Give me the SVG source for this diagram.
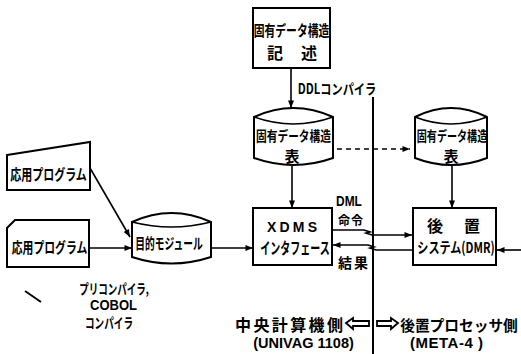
<svg xmlns="http://www.w3.org/2000/svg" width="521" height="354" viewBox="0 0 521 354">
<defs>
<style>
.jp{font-family:"Noto Sans CJK JP","Liberation Sans",sans-serif;font-weight:bold;fill:#000;dominant-baseline:central;text-anchor:middle}
.la{font-family:"Liberation Sans","Noto Sans CJK JP",sans-serif;font-weight:bold;fill:#000;dominant-baseline:central;text-anchor:middle}
.box{fill:#fff;stroke:#000;stroke-width:2}
.ln{fill:none;stroke:#000;stroke-width:1.6}
.dash{fill:none;stroke:#000;stroke-width:1.6;stroke-dasharray:5 4}
.harrow{fill:none;stroke:#000;stroke-width:1.8}
</style>
<marker id="ah" viewBox="0 0 10 8" refX="10" refY="4" markerWidth="8" markerHeight="6" markerUnits="userSpaceOnUse" orient="auto">
<path d="M0,0 L10,4 L0,8 Z" fill="#000"/>
</marker>
</defs>
<rect width="521" height="354" fill="#fff"/>

<g id="divider">
<line x1="373" y1="97" x2="373" y2="354" stroke="#000" stroke-width="2"/>
</g>

<g id="connectors">
<line class="ln" x1="291" y1="68" x2="291" y2="108" marker-end="url(#ah)"/>
<line class="ln" x1="292" y1="166" x2="292" y2="208" marker-end="url(#ah)"/>
<line class="ln" x1="452" y1="166" x2="452" y2="208" marker-end="url(#ah)"/>
<line class="dash" x1="337" y1="149" x2="410" y2="149" marker-end="url(#ah)"/>
<line class="ln" x1="90" y1="168" x2="130" y2="237" marker-end="url(#ah)"/>
<line class="ln" x1="89" y1="248" x2="132" y2="248" marker-end="url(#ah)"/>
<line class="ln" x1="211" y1="248" x2="253" y2="248" marker-end="url(#ah)"/>
<line class="ln" x1="521" y1="250" x2="497" y2="250" marker-end="url(#ah)"/>
<polyline class="ln" points="333,230 364,230 370,232 366,233 372,235 412,235" marker-end="url(#ah)"/>
<polyline class="ln" points="412,250 376,250 370,248 374,247 368,245 333,245" marker-end="url(#ah)"/>
<line x1="25" y1="291" x2="41" y2="302" stroke="#000" stroke-width="2"/>
</g>

<g id="ddl-source">
<rect class="box" x="253" y="8" width="77" height="60"/>
<text class="jp" transform="translate(291.5,30) scale(0.72,1)" font-size="15">固有データ構造</text>
<text class="jp" x="292" y="52" font-size="16" textLength="50" lengthAdjust="spacing">記　述</text>
</g>
<text class="jp" transform="translate(337,88) scale(0.8,1)" font-size="14">DDLコンパイラ</text>

<g id="table-left">
<path class="box" d="M254,117 Q293.5,99 333,117 L333,158 Q293.5,172 254,158 Z"/>
<path class="ln" d="M254,117 Q293.5,131 333,117"/>
<text class="jp" transform="translate(293.5,135) scale(0.765,1)" font-size="14">固有データ構造</text>
<text class="jp" x="292" y="155" font-size="15">表</text>
</g>

<g id="table-right">
<path class="box" d="M415,117 Q451,99 487,117 L487,158 Q451,172 415,158 Z"/>
<path class="ln" d="M415,117 Q451,131 487,117"/>
<text class="jp" transform="translate(452,135) scale(0.72,1)" font-size="14">固有データ構造</text>
<text class="jp" x="451" y="155" font-size="15">表</text>
</g>

<g id="app1">
<path class="box" d="M7,155 L90,142 L90,190 L7,190 Z"/>
<text class="jp" transform="translate(48.5,174) scale(0.733,1)" font-size="15">応用プログラム</text>
</g>

<g id="app2">
<path class="box" d="M15,220 L89,220 L89,267 L7,267 L7,228 Z"/>
<text class="jp" transform="translate(49.5,247) scale(0.723,1)" font-size="15">応用プログラム</text>
</g>

<g id="object-module">
<path class="box" d="M132,222 Q171.5,204 211,222 L211,257 Q171.5,270 132,257 Z"/>
<path class="ln" d="M132,222 Q171.5,232 211,222"/>
<text class="jp" transform="translate(169,242) scale(0.65,1)" font-size="15">目的モジュール</text>
</g>

<g id="xdms">
<rect class="box" x="253" y="208" width="79" height="57"/>
<text class="la" x="292" y="227" font-size="14" textLength="50" lengthAdjust="spacing">XDMS</text>
<text class="jp" transform="translate(295,247) scale(0.625,1)" font-size="16">インタフェース</text>
</g>

<g id="dmr">
<rect class="box" x="413" y="208" width="83" height="57"/>
<text class="jp" x="453.5" y="225" font-size="16" textLength="53" lengthAdjust="spacing">後　置</text>
<text class="jp" transform="translate(456,247) scale(0.74,1)" font-size="15">システム(DMR)</text>
</g>

<g id="labels">
<text class="la" transform="translate(349,201) scale(0.85,1)" font-size="14">DML</text>
<text class="jp" x="350.5" y="219.5" font-size="12" textLength="25" lengthAdjust="spacing">命令</text>
<text class="jp" x="353" y="262" font-size="14" textLength="30" lengthAdjust="spacing">結果</text>
<text class="jp" transform="translate(114,288) scale(0.68,1)" font-size="14">プリコンパイラ,</text>
<text class="la" transform="translate(113.5,305) scale(0.93,1)" font-size="14">COBOL</text>
<text class="jp" transform="translate(109,322) scale(0.686,1)" font-size="14">コンパイラ</text>
<text class="jp" x="289" y="324" font-size="16" textLength="108" lengthAdjust="spacing">中央計算機側</text>
<path class="harrow" d="M346,323 L353,318 L353,321 L369,321 L369,326 L353,326 L353,329 Z"/>
<path class="harrow" d="M398,323 L391,318 L391,321 L377,321 L377,326 L391,326 L391,329 Z"/>
<text class="jp" transform="translate(459,324) scale(0.98,1)" font-size="15">後置プロセッサ側</text>
<text class="la" transform="translate(303.5,343) scale(0.97,1)" font-size="15">(UNIVAG 1108)</text>
<text class="la" x="446.5" y="342" font-size="15" textLength="73" lengthAdjust="spacing">(META-4 )</text>
</g>
</svg>
